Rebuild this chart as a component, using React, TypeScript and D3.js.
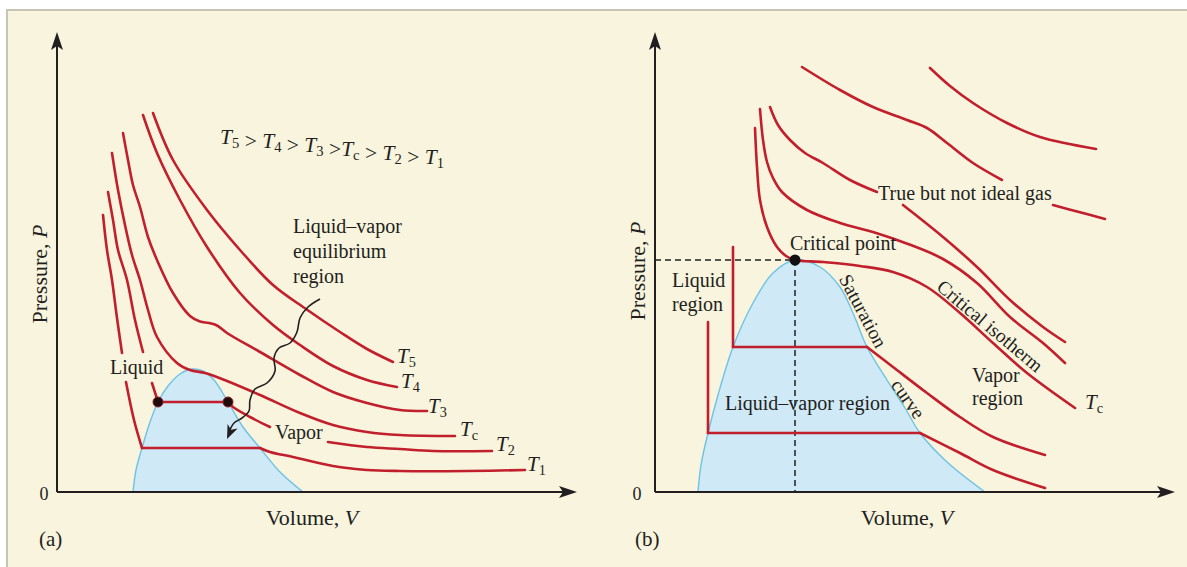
import React from 'react';
import * as d3 from 'd3';

type Pt = [number, number];

// ---------- Panel (a): isotherms (V, P in arbitrary units) ----------
const T5a: Pt[] = [[19.2, 75.8], [23.2, 66.4], [30, 56.4], [36.6, 48.4], [43.2, 41.4], [49.8, 36.6], [56.6, 32], [62, 28.6], [67.2, 26]];
const T4a: Pt[] = [[17.2, 75.4], [20, 67.8], [24.6, 58.4], [30, 49], [36.6, 39.8], [43.2, 33.4], [48.6, 29.4], [55.2, 25.2], [62, 22.4], [68, 21]];
const T3a: Pt[] = [[13.2, 71.8], [14.2, 66.4], [15.2, 61.4], [16.6, 57], [18.2, 51], [20, 46.4], [23.2, 39.8], [26.6, 35.2], [28.6, 34.1], [30.4, 33.8], [32, 33.3], [34, 31.8], [40.6, 28], [48.6, 23.4], [55.2, 20], [62, 17.8], [68.6, 16.4], [74, 16.2]];
const TcA: Pt[] = [[11, 67.8], [12.2, 60.4], [13.6, 53.4], [15, 47.4], [16.6, 42.4], [18.2, 36.4], [20, 31], [24, 25.8], [26.6, 24.4], [29.6, 23.8], [34, 22.2], [40.6, 19.4], [48.6, 15.8], [55.2, 13.4], [62, 12], [68.6, 11.4], [79.6, 11.2]];
const T2aLeft: Pt[] = [[10.2, 60], [11.2, 54.4], [12.2, 48.4], [14, 42.4], [15.6, 34.4], [17.2, 28]];
const T2aLiquid: Pt[] = [[19, 21.8], [20.2, 18]];
const T2aFlat: Pt[] = [[20.2, 18], [34.2, 18]];
const T2aVapor: Pt[] = [[34.2, 18], [35.2, 17], [38.6, 15], [42.6, 13]];
const T2aRight: Pt[] = [[54.2, 10], [62, 9], [68.6, 8.6], [75.2, 8.2], [87, 8.2]];
const T1aLeft: Pt[] = [[9.2, 55.4], [10, 48.4], [11, 42.4], [12, 34.8], [13, 27.8]];
const T1aLiquid: Pt[] = [[13.8, 22], [15.4, 14.4], [17, 8.8]];
const T1aFlat: Pt[] = [[17, 8.8], [40.6, 8.8]];
const T1aVapor: Pt[] = [[40.6, 8.8], [42.6, 8], [47.2, 7], [55.2, 5.2], [62, 4.4], [68.6, 4.2], [82, 4.2], [93.6, 4.4]];
const domeA: Pt[] = [[15.2, 0], [15.8, 4.4], [17, 8.8], [18.6, 14], [20.2, 18], [22.2, 21.2], [24.6, 23.6], [27, 24.6], [29.2, 24.2], [31.4, 22.4], [34.2, 18], [37.2, 13], [40.6, 8.8], [44.6, 4], [49.2, 0]];
const equilibriumPoints: Pt[] = [[20.2, 18], [34.2, 18]];
const wavyArrow: Pt[] = [[52.6, 38.6], [50.2, 37], [48.6, 34.8], [48, 32], [46.6, 29.8], [44.4, 28.8], [43.4, 26.8], [43.6, 24.2], [42, 21.8], [39.6, 20.6], [38.6, 18.4], [38.4, 16.2], [37, 14.8], [35.4, 13.8], [34, 10.6]];

// ---------- Panel (b) ----------
const R1b: Pt[] = [[55, 84.8], [59, 81.2], [63.6, 77.8], [70.4, 73.8], [77, 71], [88.2, 68.6]];
const R2b: Pt[] = [[29.4, 85], [37, 80.4], [43.6, 77], [50.4, 74.4], [54.4, 72.8], [58.4, 69.8], [63.6, 65.8], [69.4, 62.4]];
const R2bTail: Pt[] = [[79.6, 57.4], [84.8, 56], [90, 54.6]];
const R3b: Pt[] = [[23, 77], [24.6, 73.4], [27, 70.4], [30, 67.8], [33.6, 65.8], [39, 62.4], [44.4, 60]];
const R3bTail: Pt[] = [[49.6, 57.4], [57.6, 51], [64.4, 45], [71, 38.4], [77.6, 33], [82, 30]];
const R4b: Pt[] = [[21, 76.6], [21.6, 70.4], [22.4, 66], [23.6, 62.8], [25.4, 60], [30.4, 56.4], [37, 53.8], [43.6, 52], [50.6, 49.6], [57.6, 46.6], [64.4, 41.8], [71, 35], [77.6, 29.8], [82, 25.8]];
const TcB: Pt[] = [[20, 72.8], [20.4, 65], [21, 58.4], [22.4, 53], [24.4, 49], [26.2, 47.2], [28, 46.4], [33.6, 46], [41, 45.2], [47.6, 44], [54.4, 41], [61, 35.8], [67.6, 29.8], [74.4, 23.8], [84, 16.8]];
const L1bWall: Pt[] = [[15.6, 49], [15.6, 29]];
const L1bFlat: Pt[] = [[15.6, 29], [42.4, 29]];
const L1bGas: Pt[] = [[42.4, 29], [47.6, 25], [54.4, 19.8], [61, 15], [67.6, 11], [78, 7.4]];
const L2bWall: Pt[] = [[10.6, 34], [10.6, 11.8]];
const L2bFlat: Pt[] = [[10.6, 11.8], [53, 11.8]];
const L2bGas: Pt[] = [[53, 11.8], [61, 7.8], [67.6, 4.4], [78, 0.8]];
const domeB: Pt[] = [[8.6, 0], [9.2, 5.4], [10.6, 11.8], [12.6, 19.4], [15.6, 29], [19.6, 37.8], [23.6, 43.8], [28, 46.4], [33, 45], [37, 41], [39.6, 35.8], [42.4, 29], [46.4, 22.4], [50, 16.8], [53, 11.8], [58.4, 6], [66, 0]];
const criticalPoint: Pt = [28, 46.4];

const piecesA: Pt[][] = [T5a, T4a, T3a, TcA, T2aLeft, T2aLiquid, T2aFlat, T2aVapor, T2aRight, T1aLeft, T1aLiquid, T1aFlat, T1aVapor];
const piecesB: Pt[][] = [R1b, R2b, R2bTail, R3b, R3bTail, R4b, TcB, L1bWall, L1bFlat, L1bGas, L2bWall, L2bFlat, L2bGas];

const W = 1187;
const H = 567;
const RED = '#C21F2D';
const INK = '#231F20';
const BG = '#F8F4DE';
const FONT = '"Liberation Serif", "DejaVu Serif", serif';

const xA = d3.scaleLinear().domain([0, 104]).range([57, 577]);
const xB = d3.scaleLinear().domain([0, 104]).range([655, 1175]);
const yP = d3.scaleLinear().domain([0, 92]).range([492, 32]);

function lineGen(x: d3.ScaleLinear<number, number>) {
  return d3.line<Pt>().x(d => x(d[0])).y(d => yP(d[1])).curve(d3.curveCatmullRom.alpha(0.5));
}
function areaGen(x: d3.ScaleLinear<number, number>) {
  return d3.area<Pt>().x(d => x(d[0])).y0(yP(0)).y1(d => yP(d[1])).curve(d3.curveCatmullRom.alpha(0.5));
}

function head(tip: [number, number], from: [number, number], len: number, hw: number, notch: number) {
  const dx = tip[0] - from[0];
  const dy = tip[1] - from[1];
  const m = Math.hypot(dx, dy) || 1;
  const ux = dx / m, uy = dy / m;
  const px = -uy, py = ux;
  const bx = tip[0] - ux * len, by = tip[1] - uy * len;
  const nx = tip[0] - ux * (len - notch), ny = tip[1] - uy * (len - notch);
  return [[tip[0], tip[1]], [bx + px * hw, by + py * hw], [nx, ny], [bx - px * hw, by - py * hw]].map(p => p.join(',')).join(' ');
}

function Axes({ x }: { x: d3.ScaleLinear<number, number> }) {
  const x0 = x(0), y0 = yP(0);
  const xEnd = x.range()[1];
  const yEnd = yP.range()[1];
  return (
    <g>
      <line x1={x0} y1={y0} x2={xEnd - 10} y2={y0} stroke={INK} strokeWidth={2} />
      <line x1={x0} y1={y0} x2={x0} y2={yEnd + 10} stroke={INK} strokeWidth={2} />
      <polygon points={head([xEnd, y0], [x0, y0], 18, 6, 4)} fill={INK} />
      <polygon points={head([x0, yEnd], [x0, y0], 18, 6, 4)} fill={INK} />
    </g>
  );
}

function Sub({ base, sub }: { base: string; sub: string }) {
  return (
    <>
      <tspan fontStyle="italic">{base}</tspan>
      <tspan fontSize="0.68em" dy={4}>{sub}</tspan>
      <tspan dy={-4}>{''}</tspan>
    </>
  );
}

export default function App() {
  const la = lineGen(xA);
  const lb = lineGen(xB);
  const aa = areaGen(xA);
  const ab = areaGen(xB);
  const arrowTip: [number, number] = [xA(wavyArrow[wavyArrow.length - 1][0]), yP(wavyArrow[wavyArrow.length - 1][1])];
  const arrowFrom: [number, number] = [xA(wavyArrow[wavyArrow.length - 2][0]), yP(wavyArrow[wavyArrow.length - 2][1])];
  const tLabel = (x: number, y: number, sub: string) => (
    <text x={x} y={y} fontSize={21}><Sub base="T" sub={sub} /></text>
  );
  return (
    <svg width={W} height={H} style={{ position: 'absolute', left: 0, top: 0 }} fontFamily={FONT} fill={INK}>
      <rect x={0} y={0} width={W} height={H} fill="#ffffff" />
      <rect x={7} y={10} width={W + 10} height={H + 10} fill={BG} stroke="#C9C5B6" strokeWidth={2} />

      {/* ---------- Panel (a) ---------- */}
      <path d={aa(domeA) || ''} fill="#CFE9F6" stroke="none" />
      <path d={la(domeA) || ''} fill="none" stroke="#6DC3E4" strokeWidth={1.4} />
      {piecesA.map((p, i) => (
        <path key={i} d={la(p) || ''} fill="none" stroke={RED} strokeWidth={2.6} strokeLinecap="round" strokeLinejoin="round" />
      ))}
      {equilibriumPoints.map((p, i) => (
        <circle key={i} cx={xA(p[0])} cy={yP(p[1])} r={5} fill="#1E0B0B" stroke="#8E1A22" strokeWidth={1} />
      ))}
      <path d={la(wavyArrow.slice(0, -1).concat([[wavyArrow[wavyArrow.length - 1][0] + 0.3, wavyArrow[wavyArrow.length - 1][1] + 1.2]])) || ''} fill="none" stroke={INK} strokeWidth={1.6} />
      <polygon points={head(arrowTip, arrowFrom, 14, 5.5, 4)} fill={INK} />
      <Axes x={xA} />

      <text transform="translate(47,274) rotate(-90)" textAnchor="middle" fontSize={22}>
        Pressure, <tspan fontStyle="italic">P</tspan>
      </text>
      <text x={44} y={500} textAnchor="middle" fontSize={18}>0</text>
      <text x={312} y={525} textAnchor="middle" fontSize={22}>
        Volume, <tspan fontStyle="italic">V</tspan>
      </text>
      <text x={39} y={546} fontSize={21}>(a)</text>

      <text x={220} y={144} fontSize={21.5}>
        <Sub base="T" sub="5" /><tspan>{' > '}</tspan>
        <Sub base="T" sub="4" /><tspan>{' > '}</tspan>
        <Sub base="T" sub="3" /><tspan>{' >'}</tspan>
        <Sub base="T" sub="c" /><tspan>{' > '}</tspan>
        <Sub base="T" sub="2" /><tspan>{' > '}</tspan>
        <Sub base="T" sub="1" />
      </text>
      <text x={293} y={233} fontSize={20}>Liquid–vapor</text>
      <text x={293} y={258} fontSize={20}>equilibrium</text>
      <text x={293} y={283} fontSize={20}>region</text>
      <text x={110} y={374} fontSize={20}>Liquid</text>
      <text x={275} y={439} fontSize={20}>Vapor</text>
      {tLabel(397, 363, '5')}
      {tLabel(401, 388, '4')}
      {tLabel(428, 413, '3')}
      {tLabel(460, 436, 'c')}
      {tLabel(496, 451, '2')}
      {tLabel(527, 471, '1')}

      {/* ---------- Panel (b) ---------- */}
      <path d={ab(domeB) || ''} fill="#CFE9F6" stroke="none" />
      <path d={lb(domeB) || ''} fill="none" stroke="#6DC3E4" strokeWidth={1.4} />
      <line x1={xB(0)} y1={yP(criticalPoint[1])} x2={xB(criticalPoint[0])} y2={yP(criticalPoint[1])} stroke={INK} strokeWidth={1.5} strokeDasharray="6,4" />
      <line x1={xB(criticalPoint[0])} y1={yP(criticalPoint[1])} x2={xB(criticalPoint[0])} y2={yP(0)} stroke={INK} strokeWidth={1.5} strokeDasharray="6,4" />
      {piecesB.map((p, i) => (
        <path key={i} d={lb(p) || ''} fill="none" stroke={RED} strokeWidth={2.6} strokeLinecap="round" strokeLinejoin="round" />
      ))}
      <circle cx={xB(criticalPoint[0])} cy={yP(criticalPoint[1])} r={5.5} fill="#111" />
      <Axes x={xB} />

      <text transform="translate(645,271) rotate(-90)" textAnchor="middle" fontSize={22}>
        Pressure, <tspan fontStyle="italic">P</tspan>
      </text>
      <text x={637} y={500} textAnchor="middle" fontSize={18}>0</text>
      <text x={907} y={525} textAnchor="middle" fontSize={22}>
        Volume, <tspan fontStyle="italic">V</tspan>
      </text>
      <text x={635} y={546} fontSize={21}>(b)</text>

      <text x={790} y={250} fontSize={20}>Critical point</text>
      <text x={878} y={200} fontSize={20}>True but not ideal gas</text>
      <text x={672} y={287} fontSize={20}>Liquid</text>
      <text x={672} y={311} fontSize={20}>region</text>
      <text x={725} y={410} fontSize={20}>Liquid–vapor region</text>
      <text x={972} y={382} fontSize={20}>Vapor</text>
      <text x={972} y={405} fontSize={20}>region</text>
      {tLabel(1085, 409, 'c')}
      <text transform="translate(863,311) rotate(62)" textAnchor="middle" dominantBaseline="central" fontSize={19.5}>Saturation</text>
      <text transform="translate(908,399) rotate(55)" textAnchor="middle" dominantBaseline="central" fontSize={19.5}>curve</text>
      <text transform="translate(990,326) rotate(40)" textAnchor="middle" dominantBaseline="central" fontSize={19.5}>Critical isotherm</text>
    </svg>
  );
}
